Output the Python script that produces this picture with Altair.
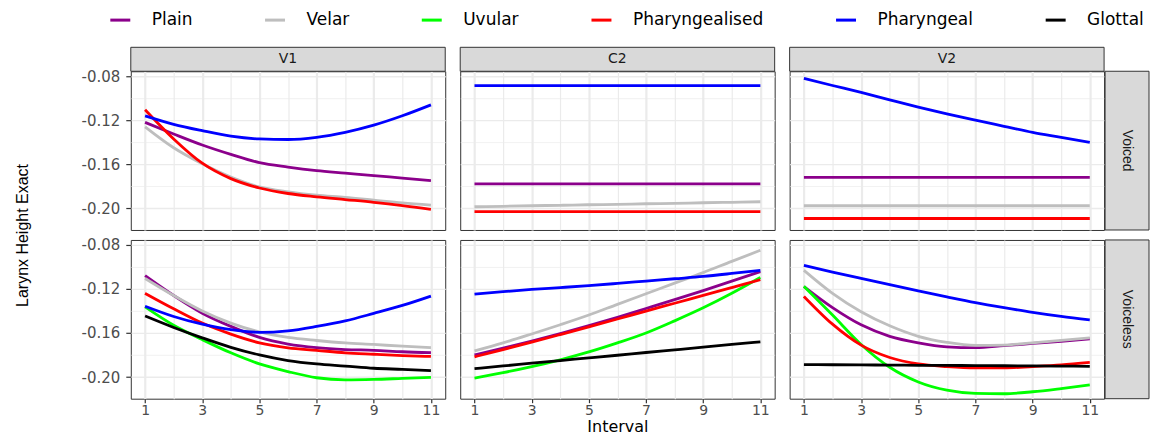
import altair as alt
import pandas as pd

# ---------------- data ----------------
intervals = [1, 2, 3, 4, 5, 6, 7, 8, 9, 10, 11]
places = ["Plain", "Velar", "Uvular", "Pharyngealised", "Pharyngeal", "Glottal"]
place_colors = ["#8B008B", "#BEBEBE", "#00FF00", "#FF0000", "#0000FF", "#000000"]
positions = ["V1", "C2", "V2"]
voicings = ["Voiced", "Voiceless"]
y_ticks = [-0.20, -0.18, -0.16, -0.14, -0.12, -0.10, -0.08]

# V1 / Voiced
v1_vd_plain = [-0.122, -0.1325, -0.1425, -0.151, -0.1585, -0.1625, -0.1657, -0.168, -0.1703, -0.1725, -0.1748]
v1_vd_velar = [-0.126, -0.145, -0.1595, -0.1715, -0.1805, -0.185, -0.188, -0.190, -0.1925, -0.195, -0.197]
v1_vd_phzd = [-0.1105, -0.137, -0.159, -0.173, -0.1815, -0.1865, -0.1895, -0.192, -0.1945, -0.1975, -0.201]
v1_vd_phar = [-0.116, -0.1237, -0.1295, -0.1345, -0.137, -0.1375, -0.1355, -0.131, -0.1245, -0.116, -0.1061]

# C2 / Voiced
c2_vd_plain = [-0.1778, -0.1778, -0.1778, -0.1778, -0.1778, -0.1778, -0.1778, -0.1778, -0.1778, -0.1778, -0.1778]
c2_vd_velar = [-0.1985, -0.1981, -0.1976, -0.1972, -0.1967, -0.1963, -0.1958, -0.1954, -0.1949, -0.1945, -0.1940]
c2_vd_phzd = [-0.203, -0.203, -0.203, -0.203, -0.203, -0.203, -0.203, -0.203, -0.203, -0.203, -0.203]
c2_vd_phar = [-0.0886, -0.0886, -0.0886, -0.0886, -0.0886, -0.0886, -0.0886, -0.0886, -0.0886, -0.0886, -0.0886]

# V2 / Voiced
v2_vd_plain = [-0.1719, -0.1719, -0.1719, -0.1719, -0.1719, -0.1719, -0.1719, -0.1719, -0.1719, -0.1719, -0.1719]
v2_vd_velar = [-0.1976, -0.1976, -0.1976, -0.1976, -0.1976, -0.1976, -0.1976, -0.1976, -0.1976, -0.1976, -0.1976]
v2_vd_phzd = [-0.2092, -0.2092, -0.2092, -0.2092, -0.2092, -0.2092, -0.2092, -0.2092, -0.2092, -0.2092, -0.2092]
v2_vd_phar = [-0.0821, -0.0885, -0.0948, -0.1015, -0.1081, -0.1143, -0.1200, -0.1255, -0.1310, -0.1355, -0.1401]

# V1 / Voiceless
v1_vl_plain = [-0.108, -0.126, -0.142, -0.154, -0.164, -0.170, -0.1733, -0.175, -0.1757, -0.177, -0.1778]
v1_vl_velar = [-0.1105, -0.126, -0.140, -0.151, -0.159, -0.164, -0.1668, -0.169, -0.1704, -0.172, -0.1733]
v1_vl_uvul = [-0.1363, -0.153, -0.166, -0.178, -0.188, -0.195, -0.2006, -0.2025, -0.2021, -0.2012, -0.2003]
v1_vl_phzd = [-0.124, -0.138, -0.151, -0.161, -0.169, -0.1735, -0.1757, -0.178, -0.1793, -0.1805, -0.1813]
v1_vl_phar = [-0.1357, -0.145, -0.152, -0.157, -0.1594, -0.158, -0.154, -0.149, -0.1422, -0.135, -0.1265]
v1_vl_glot = [-0.1446, -0.155, -0.1644, -0.173, -0.1799, -0.185, -0.1881, -0.190, -0.192, -0.193, -0.1941]

# C2 / Voiceless
c2_vl_plain = [-0.1799, -0.1738, -0.1674, -0.1605, -0.1532, -0.1457, -0.1378, -0.1298, -0.1215, -0.113, -0.1043]
c2_vl_velar = [-0.1763, -0.169, -0.1609, -0.1525, -0.1437, -0.134, -0.1244, -0.1148, -0.1052, -0.095, -0.085]
c2_vl_uvul = [-0.2009, -0.196, -0.1905, -0.1843, -0.1772, -0.169, -0.160, -0.149, -0.1372, -0.124, -0.1096]
c2_vl_phzd = [-0.1816, -0.175, -0.1683, -0.1614, -0.1544, -0.1473, -0.1401, -0.133, -0.1259, -0.1188, -0.1117]
c2_vl_phar = [-0.1247, -0.1225, -0.1205, -0.1188, -0.117, -0.115, -0.1129, -0.1108, -0.1087, -0.106, -0.1031]
c2_vl_glot = [-0.1923, -0.1899, -0.1874, -0.1850, -0.1826, -0.1802, -0.1777, -0.1753, -0.1729, -0.1704, -0.1680]

# V2 / Voiceless
v2_vl_plain = [-0.1179, -0.137, -0.1526, -0.163, -0.1689, -0.1725, -0.1733, -0.1715, -0.1695, -0.1675, -0.1653]
v2_vl_velar = [-0.1031, -0.124, -0.1407, -0.1535, -0.163, -0.1685, -0.1713, -0.171, -0.1689, -0.1667, -0.1644]
v2_vl_uvul = [-0.1176, -0.1437, -0.1704, -0.1911, -0.2044, -0.2119, -0.2148, -0.2151, -0.2133, -0.2104, -0.2071]
v2_vl_phzd = [-0.1268, -0.152, -0.171, -0.1822, -0.1881, -0.1905, -0.1917, -0.1917, -0.1905, -0.189, -0.1867]
v2_vl_phar = [-0.0987, -0.1047, -0.1105, -0.1162, -0.1218, -0.1272, -0.1324, -0.1370, -0.1413, -0.1450, -0.1481]
v2_vl_glot = [-0.1887, -0.1888, -0.1890, -0.1891, -0.1893, -0.1894, -0.1896, -0.1897, -0.1899, -0.1900, -0.1902]

series = {
    ("V1", "Voiced"): {"Plain": v1_vd_plain, "Velar": v1_vd_velar, "Pharyngealised": v1_vd_phzd, "Pharyngeal": v1_vd_phar},
    ("C2", "Voiced"): {"Plain": c2_vd_plain, "Velar": c2_vd_velar, "Pharyngealised": c2_vd_phzd, "Pharyngeal": c2_vd_phar},
    ("V2", "Voiced"): {"Plain": v2_vd_plain, "Velar": v2_vd_velar, "Pharyngealised": v2_vd_phzd, "Pharyngeal": v2_vd_phar},
    ("V1", "Voiceless"): {"Plain": v1_vl_plain, "Velar": v1_vl_velar, "Uvular": v1_vl_uvul, "Pharyngealised": v1_vl_phzd, "Pharyngeal": v1_vl_phar, "Glottal": v1_vl_glot},
    ("C2", "Voiceless"): {"Plain": c2_vl_plain, "Velar": c2_vl_velar, "Uvular": c2_vl_uvul, "Pharyngealised": c2_vl_phzd, "Pharyngeal": c2_vl_phar, "Glottal": c2_vl_glot},
    ("V2", "Voiceless"): {"Plain": v2_vl_plain, "Velar": v2_vl_velar, "Uvular": v2_vl_uvul, "Pharyngealised": v2_vl_phzd, "Pharyngeal": v2_vl_phar, "Glottal": v2_vl_glot},
}

rows = []
for (pos, voi), d in series.items():
    for place in places:
        if place in d:
            for xi, yv in zip(intervals, d[place]):
                rows.append({"Position": pos, "Voicing": voi, "Place": place, "Interval": xi, "Height": yv})
df = pd.DataFrame(rows)

# ---------------- styling ----------------
W, H = 315, 159
GAP_R, GAP_C = 10, 15
STRIP = 24
GRID = "#EBEBEB"
DARK = "#333333"
TXT = "#4D4D4D"
FONT = "DejaVu Sans"
Y_DOMAIN = [-0.2196, -0.0756]

legend = alt.Legend(
    title=None, orient="none", legendX=-22, legendY=-63, direction="horizontal",
    columns=6, symbolType="stroke", symbolStrokeWidth=3, symbolSize=400,
    labelFont=FONT, labelFontSize=17, labelColor="#000000", labelOffset=20,
    columnPadding=66, labelLimit=300, padding=0,
)


def x_axis(bottom, title):
    kw = dict(
        values=intervals, grid=True, gridColor=GRID,
        gridWidth={"condition": {"test": "datum.value % 2 == 0", "value": 1.2}, "value": 2.2},
        domain=False, labels=bottom, ticks=bottom,
    )
    if bottom:
        kw.update(
            labelExpr="datum.value % 2 == 1 ? datum.label : ''",
            labelFont=FONT, labelFontSize=14, labelColor=TXT, labelPadding=1,
            tickSize=4, tickColor=DARK, tickWidth=1.2,
            tickOpacity={"condition": {"test": "datum.value % 2 == 0", "value": 0}, "value": 1},
        )
    if title:
        kw.update(title=title, titleFont=FONT, titleFontSize=16, titleFontWeight="normal",
                  titleColor="#000000", titleY=27.5, titleBaseline="middle")
    else:
        kw.update(title=None)
    return alt.Axis(**kw)


def y_axis(left, title):
    minor = "abs(round(datum.value * 100)) % 4 == 2"
    kw = dict(
        values=y_ticks, grid=True, gridColor=GRID,
        gridWidth={"condition": {"test": minor, "value": 0.7}, "value": 1.3},
        domain=False, labels=left, ticks=left,
    )
    if left:
        kw.update(
            labelExpr="abs(round(datum.value * 100)) % 4 == 0 ? replace(format(datum.value, '.2f'), '\u2212', '-') : ''",
            labelFont=FONT, labelFontSize=15, labelColor=TXT, labelPadding=6,
            tickSize=5, tickColor=DARK, tickWidth=1.2,
            tickOpacity={"condition": {"test": minor, "value": 0}, "value": 1},
        )
    if title:
        kw.update(title=title, titleFont="Liberation Sans", titleFontSize=16, titleFontWeight="normal",
                  titleColor="#000000", titleX=-108, titleY=(2 * H + GAP_R) / 2,
                  titleBaseline="middle", titleAngle=270)
    else:
        kw.update(title=None)
    return alt.Axis(**kw)


def panel(pos, voi, ri, ci):
    base = alt.Chart(df).transform_filter(
        f"datum.Position == '{pos}' && datum.Voicing == '{voi}'"
    )
    lines = base.mark_line(interpolate="monotone", strokeWidth=2.8).encode(
        x=alt.X("Interval:Q", scale=alt.Scale(domain=[0.5, 11.5], nice=False, zero=False),
                axis=x_axis(ri == 1, "Interval" if (ri == 1 and ci == 1) else None)),
        y=alt.Y("Height:Q", scale=alt.Scale(domain=Y_DOMAIN, nice=False, zero=False),
                axis=y_axis(ci == 0, "Larynx Height Exact" if (ri == 0 and ci == 0) else None)),
        color=alt.Color("Place:N", scale=alt.Scale(domain=places, range=place_colors), legend=legend),
    )
    layers = [lines]
    if ri == 0:
        sd = alt.Chart(pd.DataFrame({"label": [pos]}))
        layers.append(sd.mark_rect(fill="#D9D9D9", stroke=DARK, strokeWidth=1).encode(
            x=alt.value(0), x2=alt.value(W), y=alt.value(-STRIP), y2=alt.value(0)))
        layers.append(sd.mark_text(font=FONT, fontSize=14, color="#1A1A1A", baseline="middle").encode(
            text="label:N", x=alt.value(W / 2), y=alt.value(-STRIP / 2)))
    if ci == 2:
        sd = alt.Chart(pd.DataFrame({"label": [voi]}))
        layers.append(sd.mark_rect(fill="#D9D9D9", stroke=DARK, strokeWidth=1).encode(
            x=alt.value(W + 1), x2=alt.value(W + 45), y=alt.value(0), y2=alt.value(H)))
        layers.append(sd.mark_text(font="Liberation Sans", fontSize=14, color="#1A1A1A",
                                   baseline="middle", angle=90).encode(
            text="label:N", x=alt.value(W + 23), y=alt.value(H / 2)))
    return alt.layer(*layers).properties(
        width=W, height=H,
        view=alt.ViewBackground(fill="white", stroke=DARK, strokeWidth=1),
    )


cells = []
for ri, voi in enumerate(voicings):
    for ci, pos in enumerate(positions):
        cells.append(panel(pos, voi, ri, ci))

chart = alt.concat(*cells, columns=3, spacing={"row": GAP_R, "column": GAP_C}, bounds="flush").properties(
    padding={"left": 6, "top": 0, "right": 0, "bottom": 0},
    background="white",
)

chart.save("out.html", embed_options={"renderer": "svg", "actions": False})
